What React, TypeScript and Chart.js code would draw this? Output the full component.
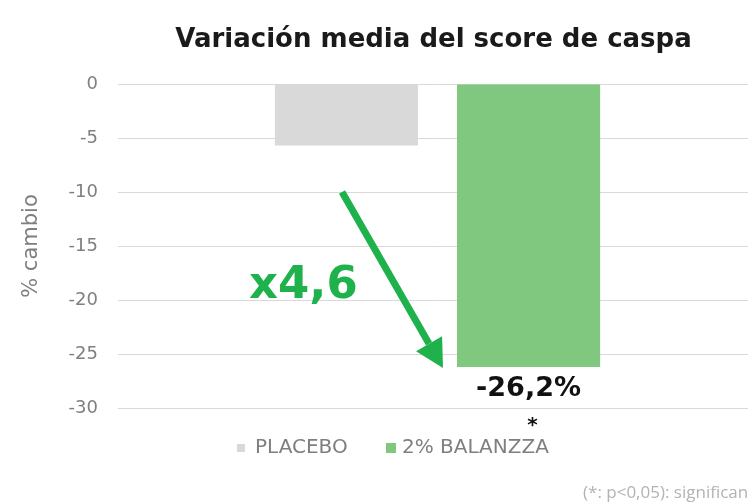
import React, { useEffect, useRef } from "react";
import { Chart, registerables } from "chart.js";

Chart.register(...registerables);

const categories = [""];
const seriesNames = ["PLACEBO", "2% BALANZZA"];
const placeboValues = [-5.7];
const balanzzaValues = [-26.2];
const yTicks = [0, -5, -10, -15, -20, -25, -30];
const titleText = "Variación media del score de caspa";
const yAxisTitle = "% cambio";
const valueLabel = "-26,2%";
const factorLabel = "x4,6";
const footnote = "(*: p<0,05): significante";

const GRAY = "#d9d9d9";
const GREEN = "#80c77f";
const ARROW = "#1fb24c";
const FONT = "'DejaVu Sans', sans-serif";

const annotate = {
  id: "annotate",
  afterDatasetsDraw(chart: any) {
    const ctx = chart.ctx;
    const y = chart.scales.y;
    const area = chart.chartArea;
    const bar1 = chart.getDatasetMeta(1).data[0];
    ctx.save();
    // title
    ctx.fillStyle = "#1a1a1a";
    ctx.font = `bold 26px ${FONT}`;
    ctx.textAlign = "center";
    ctx.textBaseline = "alphabetic";
    ctx.fillText(titleText, (area.left + area.right) / 2 - 4, 47);

    // value label
    ctx.fillStyle = "#111";
    ctx.font = `bold 27px ${FONT}`;
    ctx.textAlign = "center";
    ctx.textBaseline = "middle";
    ctx.fillText(valueLabel, bar1.x, bar1.y + 22);
    ctx.font = `bold 20px ${FONT}`;
    ctx.fillText("*", bar1.x + 4, y.getPixelForValue(-30) + 18);

    // arrow
    const x0 = 342, y0 = y.getPixelForValue(-10);
    const x1 = 443, y1 = bar1.y + 1;
    const ang = Math.atan2(y1 - y0, x1 - x0);
    const headLen = 28, headW = 15;
    const bx = x1 - headLen * Math.cos(ang), by = y1 - headLen * Math.sin(ang);
    ctx.strokeStyle = ARROW;
    ctx.lineWidth = 7;
    ctx.beginPath();
    ctx.moveTo(x0, y0);
    ctx.lineTo(bx, by);
    ctx.stroke();
    ctx.fillStyle = ARROW;
    ctx.beginPath();
    ctx.moveTo(x1, y1);
    ctx.lineTo(bx + headW * Math.sin(ang), by - headW * Math.cos(ang));
    ctx.lineTo(bx - headW * Math.sin(ang), by + headW * Math.cos(ang));
    ctx.closePath();
    ctx.fill();

    // factor label
    ctx.fillStyle = ARROW;
    ctx.font = `bold 45px ${FONT}`;
    ctx.textAlign = "left";
    ctx.textBaseline = "alphabetic";
    ctx.fillText(factorLabel, 249, y.getPixelForValue(-19.8));

    // legend
    const ly = 448;
    const colors = [GRAY, GREEN];
    const boxX = [237, 386];
    const textX = [255, 402];
    ctx.font = `20px ${FONT}`;
    ctx.textBaseline = "middle";
    seriesNames.forEach((n, i) => {
      ctx.fillStyle = colors[i];
      const s = i === 0 ? 8 : 10;
      ctx.fillRect(boxX[i], ly - s / 2, s, s);
      ctx.fillStyle = "#7f7f7f";
      ctx.fillText(n, textX[i], ly);
    });

    // footnote
    ctx.fillStyle = "#b3b3b3";
    ctx.font = `17px 'Open Sans', sans-serif`;
    ctx.textBaseline = "alphabetic";
    ctx.fillText(footnote, 583, 498);
    ctx.restore();
  },
};

export default function App() {
  const ref = useRef<HTMLCanvasElement>(null);
  useEffect(() => {
    document.body.style.overflow = "hidden";
    const chart = new Chart(ref.current!, {
      type: "bar",
      data: {
        labels: categories,
        datasets: [
          { label: seriesNames[0], data: placeboValues, backgroundColor: GRAY, borderWidth: 0 },
          { label: seriesNames[1], data: balanzzaValues, backgroundColor: GREEN, borderWidth: 0 },
        ],
      },
      options: {
        animation: false,
        responsive: false,
        maintainAspectRatio: false,
        categoryPercentage: 0.57,
        barPercentage: 0.786,
        layout: { padding: { top: 84, bottom: 96, left: 8, right: 3 } },
        plugins: { legend: { display: false }, tooltip: { enabled: false }, title: { display: false } },
        scales: {
          x: {
            ticks: { display: false },
            grid: { display: false, drawTicks: false },
            border: { display: true, color: GRAY, width: 1 },
            afterFit: (s: any) => { s.height = 0; },
          },
          y: {
            min: -30,
            max: 0,
            afterBuildTicks: (s: any) => { s.ticks = yTicks.map((v) => ({ value: v })); },
            ticks: { color: "#7f7f7f", font: { family: FONT, size: 18 }, padding: 20 },
            grid: { color: GRAY, lineWidth: 1, drawTicks: false },
            border: { display: false },
            title: {
              display: true,
              text: yAxisTitle,
              color: "#7f7f7f",
              font: { family: FONT, size: 21 },
              padding: { top: 11, bottom: 0 },
            },
            afterFit: (s: any) => { s.width = 110; },
          },
        },
      },
      plugins: [annotate],
    });
    return () => chart.destroy();
  }, []);
  return (
    <div style={{ position: "fixed", left: 0, top: 0, width: 760, height: 504 }}>
      <canvas ref={ref} width={760} height={504} style={{ display: "block" }} />
    </div>
  );
}
